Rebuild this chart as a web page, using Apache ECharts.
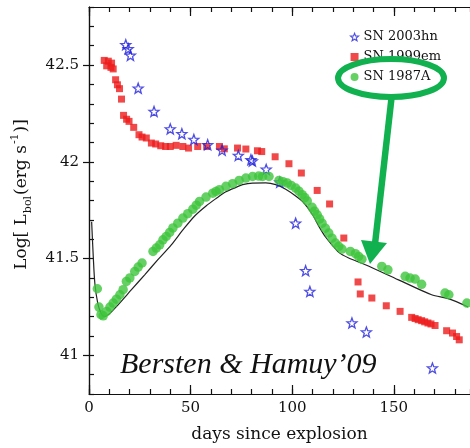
<!DOCTYPE html>
<html>
<head>
<meta charset="utf-8">
<script src="https://cdn.jsdelivr.net/npm/echarts@6/dist/echarts.min.js"></script>
<style>
  html, body { margin: 0; padding: 0; background: #fff; }
  #chart { width: 470px; height: 448px; }
</style>
</head>
<body>
<div id="chart"></div>
<script>
// [days, log L]
const sn2003hn = [
  [18.1, 42.605], [19.3, 42.584], [20.4, 42.55], [24.2, 42.38], [32.0, 42.26],
  [40.0, 42.17], [45.7, 42.145], [51.6, 42.115], [58.4, 42.088], [65.5, 42.06],
  [73.5, 42.033], [79.7, 42.011], [80.4, 42.004], [87.2, 41.961], [93.9, 41.895],
  [101.7, 41.683], [106.6, 41.437], [108.7, 41.33], [129.4, 41.167], [136.5, 41.12],
  [169.0, 40.934]
]
const sn1999em = [
  [7.5, 42.524], [9.5, 42.52], [11.1, 42.51], [8.7, 42.496], [10.8, 42.488], [11.9, 42.48],
  [13.1, 42.424], [14.0, 42.398], [15.0, 42.378], [16.0, 42.324], [17.0, 42.24], [18.5, 42.22],
  [19.7, 42.209], [22.0, 42.178], [24.6, 42.14], [26.1, 42.128], [28.2, 42.123], [30.7, 42.097],
  [32.8, 42.092], [35.3, 42.083], [37.7, 42.079], [40.0, 42.079], [42.9, 42.085], [46.2, 42.079],
  [49.0, 42.071], [53.5, 42.079], [57.9, 42.079], [64.2, 42.079], [66.6, 42.067], [73.1, 42.071],
  [77.2, 42.066], [82.9, 42.057], [85.0, 42.053], [91.6, 42.026], [98.4, 41.99], [104.5, 41.942],
  [112.3, 41.852], [118.4, 41.782], [125.4, 41.606], [132.4, 41.379], [133.5, 41.317], [139.2, 41.296],
  [146.3, 41.256], [153.1, 41.227], [158.8, 41.196], [160.5, 41.19], [162.0, 41.184], [163.7, 41.179],
  [165.2, 41.173], [166.8, 41.167], [168.3, 41.162], [170.3, 41.154], [176.0, 41.127], [178.9, 41.115],
  [180.9, 41.097], [182.2, 41.08]
]
const sn1987A = [
  [4.1, 41.344], [4.9, 41.249], [5.9, 41.21], [7.0, 41.204], [8.7, 41.227], [10.3, 41.249],
  [11.9, 41.27], [13.5, 41.29], [15.2, 41.313], [16.8, 41.339], [18.4, 41.382], [20.1, 41.4],
  [22.5, 41.433], [24.2, 41.456], [26.1, 41.477], [31.5, 41.537], [33.1, 41.554], [34.8, 41.571],
  [36.4, 41.597], [38.0, 41.614], [39.7, 41.635], [41.3, 41.658], [43.7, 41.683], [46.2, 41.709],
  [48.6, 41.732], [51.1, 41.755], [52.8, 41.776], [54.4, 41.795], [57.6, 41.818], [60.9, 41.838],
  [62.5, 41.847], [64.2, 41.856], [67.4, 41.873], [70.7, 41.887], [73.9, 41.904], [77.2, 41.916],
  [80.5, 41.924], [83.5, 41.926], [85.4, 41.924], [88.6, 41.924], [93.5, 41.904], [95.5, 41.897],
  [97.6, 41.89], [99.5, 41.878], [101.7, 41.864], [103.3, 41.848], [104.9, 41.83], [106.2, 41.815],
  [107.4, 41.798], [109.8, 41.765], [111.0, 41.745], [112.3, 41.726], [113.5, 41.705], [114.7, 41.683],
  [116.3, 41.657], [118.0, 41.632], [119.6, 41.605], [121.3, 41.58], [122.9, 41.563], [124.5, 41.549],
  [128.6, 41.537], [131.1, 41.525], [132.7, 41.511], [134.3, 41.497], [144.1, 41.459], [147.1, 41.442],
  [155.6, 41.408], [158.0, 41.399], [160.5, 41.394], [163.7, 41.367], [175.2, 41.322], [177.1, 41.313],
  [186.0, 41.27]
]
const model = [
  [1.3, 41.69], [2.1, 41.51], [2.9, 41.37], [4.3, 41.27], [5.9, 41.218], [7.5, 41.201],
  [9.5, 41.21], [14.3, 41.261], [20.9, 41.339], [27.4, 41.416], [33.9, 41.494], [40.5, 41.571],
  [46.0, 41.645], [52.0, 41.72], [57.6, 41.772], [62.5, 41.81], [67.4, 41.845], [72.3, 41.868],
  [75.6, 41.882], [80.5, 41.89], [87.0, 41.891], [91.9, 41.882], [96.8, 41.858], [101.7, 41.823],
  [105.8, 41.787], [109.8, 41.73], [113.5, 41.66], [116.5, 41.61], [119.6, 41.571], [122.9, 41.532],
  [127.8, 41.503], [136.0, 41.468], [152.3, 41.39], [168.6, 41.313], [176.8, 41.293], [186.6, 41.25]
]
const xLabels = [0, 50, 100, 150]
const yLabels = [41, 41.5, 42, 42.5]

const serif = 'DejaVu Serif'
const green = '#11b14f'
const starBlue = '#2222dd'

// hollow 5-point star
function starPath() {
  const pts = []
  for (let i = 0; i < 10; i++) {
    const r = i % 2 === 0 ? 10 : 4.2
    const a = -Math.PI / 2 + i * Math.PI / 5
    pts.push((10 + r * Math.cos(a)).toFixed(2) + ' ' + (10 + r * Math.sin(a)).toFixed(2))
  }
  return 'path://M' + pts.join(' L') + ' Z'
}

const axisLineStyle = { color: '#111', width: 1.2 }
const xBase = {
  type: 'value', min: 0, max: 187.5, interval: 10,
  splitLine: { show: false },
  axisLine: { show: true, lineStyle: axisLineStyle }
}
const yBase = {
  type: 'value', min: 40.8, max: 42.8, interval: 0.1,
  splitLine: { show: false },
  axisLine: { show: true, lineStyle: axisLineStyle }
}

const chart = echarts.init(document.getElementById('chart'))
chart.setOption({
  animation: false,
  backgroundColor: '#fff',
  grid: { left: 89, right: -2, top: 7, bottom: 53 },
  legend: {
    orient: 'vertical',
    left: 350,
    top: 30,
    padding: 0,
    itemWidth: 8,
    itemHeight: 8,
    itemGap: 6,
    data: [
      { name: 'SN 2003hn', icon: starPath(), itemStyle: { color: '#fff', borderColor: starBlue, borderWidth: 1.1 } },
      { name: 'SN 1999em', icon: 'rect', itemStyle: { color: '#ee1b1b' } },
      { name: 'SN 1987A', icon: 'circle', itemStyle: { color: '#3ec43c' } }
    ],
    textStyle: { fontFamily: serif, fontSize: 13, color: '#111', lineHeight: 14 },
    selectedMode: false
  },
  xAxis: [
    Object.assign({}, xBase, {
      position: 'bottom',
      axisTick: { inside: true, length: 5, lineStyle: axisLineStyle },
      axisLabel: { customValues: xLabels, margin: 7, fontFamily: serif, fontSize: 15, color: '#111' },
      name: 'days since explosion',
      nameLocation: 'middle',
      nameGap: 32,
      nameTextStyle: { fontFamily: serif, fontSize: 17, color: '#111' }
    }),
    Object.assign({}, xBase, {
      position: 'top',
      axisTick: { inside: true, length: 5, lineStyle: axisLineStyle },
      axisLabel: { show: false }
    }),
    Object.assign({}, xBase, {
      position: 'bottom',
      axisLine: { show: false },
      axisTick: { inside: true, length: 9, customValues: xLabels, lineStyle: axisLineStyle },
      axisLabel: { show: false }
    }),
    Object.assign({}, xBase, {
      position: 'top',
      axisLine: { show: false },
      axisTick: { inside: true, length: 9, customValues: xLabels, lineStyle: axisLineStyle },
      axisLabel: { show: false }
    })
  ],
  yAxis: [
    Object.assign({}, yBase, {
      position: 'left',
      axisTick: { inside: true, length: 5, lineStyle: axisLineStyle },
      axisLabel: { customValues: yLabels, margin: 10, fontFamily: serif, fontSize: 15, color: '#111' },
      name: '{n|Log[ L}{sub|bol}{n|(erg s}{sup|-1}{n|)]}',
      nameLocation: 'middle',
      nameRotate: 90,
      nameGap: 55,
      nameTextStyle: {
        padding: [0, 0, 0, 12],
        rich: {
          n: { fontFamily: serif, fontSize: 17, color: '#111', lineHeight: 24 },
          sub: { fontFamily: serif, fontSize: 11, color: '#111', verticalAlign: 'bottom', lineHeight: 24, padding: [0, 1, 0, 1] },
          sup: { fontFamily: serif, fontSize: 11, color: '#111', verticalAlign: 'top', lineHeight: 24, padding: [0, 1, 0, 1] }
        }
      }
    }),
    Object.assign({}, yBase, {
      position: 'right',
      axisTick: { inside: true, length: 6, customValues: yLabels, lineStyle: axisLineStyle },
      axisLabel: { show: false }
    })
  ],
  series: [
    {
      name: 'SN 1999em',
      type: 'scatter',
      symbol: 'rect',
      symbolSize: 7,
      itemStyle: { color: '#ee1b1b' },
      data: sn1999em,
      z: 2
    },
    {
      name: 'SN 2003hn',
      type: 'scatter',
      symbol: starPath(),
      symbolSize: 10,
      itemStyle: { color: 'rgba(255,255,255,0)', borderColor: starBlue, borderWidth: 1.3 },
      data: sn2003hn,
      z: 3
    },
    {
      name: 'model',
      type: 'line',
      showSymbol: false,
      smooth: 0.3,
      lineStyle: { color: '#222', width: 1.2 },
      data: model,
      z: 2
    },
    {
      name: 'SN 1987A',
      type: 'scatter',
      symbol: 'circle',
      symbolSize: 9.5,
      itemStyle: { color: '#3ec43c' },
      data: sn1987A,
      z: 4
    }
  ],
  graphic: [
    {
      type: 'text',
      z: 50,
      style: {
        text: 'Bersten & Hamuy\u201909',
        x: 120, y: 380,
        verticalAlign: 'bottom',
        font: 'italic 30px "Liberation Serif"',
        fill: '#111'
      }
    },
    {
      type: 'ellipse',
      z: 100,
      shape: { cx: 391, cy: 78, rx: 53, ry: 19 },
      style: { fill: 'none', stroke: green, lineWidth: 6 }
    },
    {
      type: 'line',
      z: 100,
      shape: { x1: 391.5, y1: 98, x2: 375, y2: 244 },
      style: { stroke: green, lineWidth: 6.5 }
    },
    {
      type: 'polygon',
      z: 100,
      shape: { points: [[361, 240], [387, 243], [370, 264]] },
      style: { fill: green }
    }
  ]
})
</script>
</body>
</html>
